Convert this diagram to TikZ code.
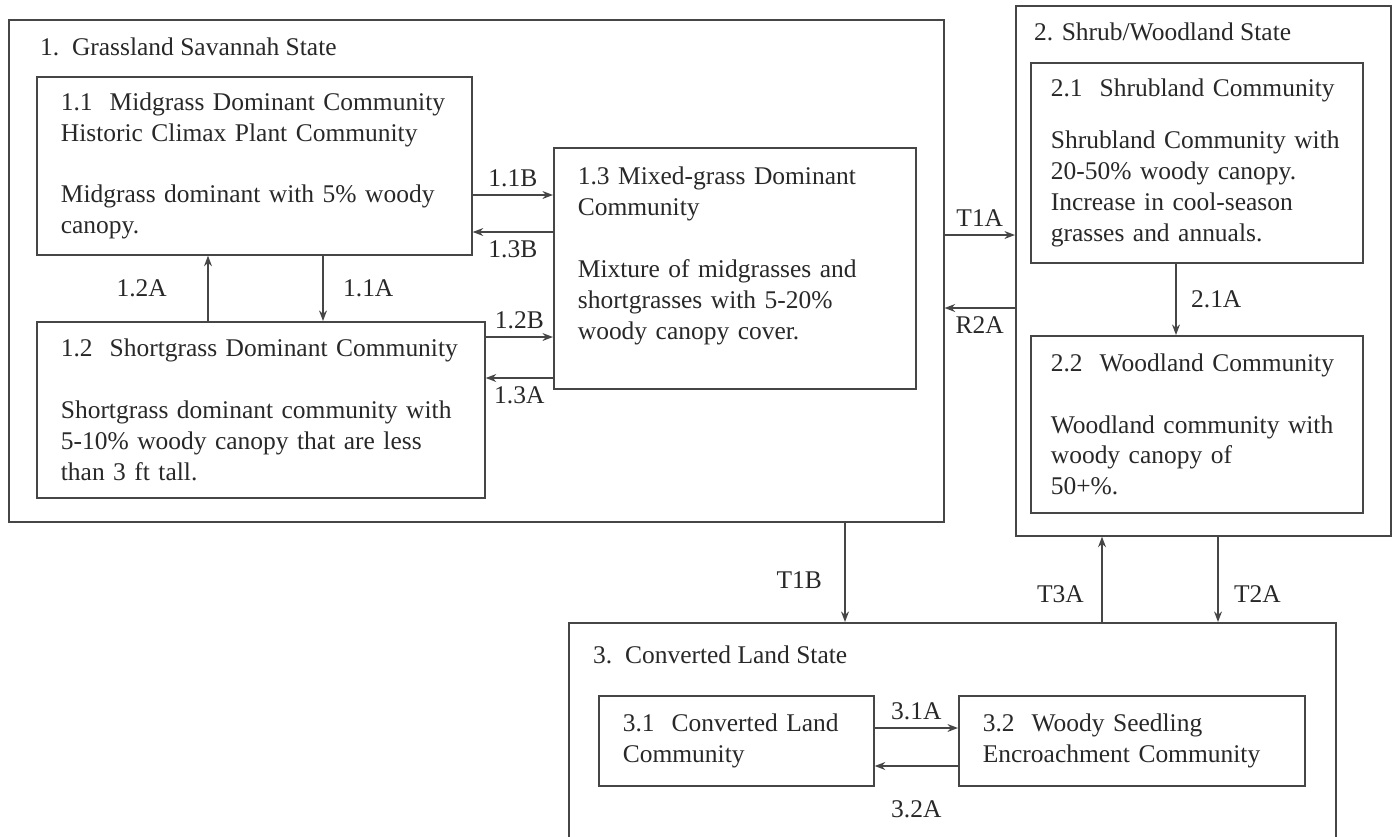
\documentclass[tikz,border=0pt]{standalone}
\usepackage{fontspec}
\setmainfont{Liberation Serif}
\usetikzlibrary{arrows.meta}
\definecolor{line-gray}{RGB}{70,70,70}
\definecolor{text-gray}{RGB}{40,40,40}

\tikzset{
  statebox/.style={draw=line-gray, line width=1pt, anchor=north west, inner sep=0pt},
  combox/.style={draw=line-gray, line width=1pt, anchor=north west, align=left, inner xsep=0.48cm, inner ysep=0pt},
  flow/.style={->, line width=0.9pt, draw=line-gray, >={Stealth[length=6pt,width=4.5pt]}}
}

\begin{document}
\begin{tikzpicture}[x=0.02cm, y=-0.02cm, text=text-gray, font=\fontsize{14.5}{17.6}\selectfont]
    \useasboundingbox (0,0) rectangle (1394,836);

    % states
    \node[statebox, minimum width=18.7cm, minimum height=10.04cm] (s1) at (8,19) {};
    \node[statebox, minimum width=7.5cm, minimum height=10.6cm] (s2) at (1015,5) {};
    \node[statebox, minimum width=15.34cm, minimum height=4.5cm] (s3) at (568,622) {};
    \node[anchor=west] (s1t) at (34,47) {1.\ \ Grassland Savannah State};
    \node[anchor=west] (s2t) at (1028,32) {2. Shrub/Woodland State};
    \node[anchor=west] (s3t) at (587,655) {3.\ \ Converted Land State};

    % communities
    \node[combox, text width=7.74cm, minimum width=8.7cm, minimum height=3.56cm] (c11) at (36,76)
      {1.1\ \ Midgrass Dominant Community\\ Historic Climax Plant Community\\[17.6pt] Midgrass dominant with 5\% woody\\ canopy.};
    \node[combox, text width=8.0cm, minimum width=8.96cm, minimum height=3.52cm] (c12) at (36,321)
      {1.2\ \ Shortgrass Dominant Community\\[17.6pt] Shortgrass dominant community with\\ 5-10\% woody canopy that are less\\ than 3 ft tall.};
    \node[combox, text width=6.28cm, minimum width=7.24cm, minimum height=4.82cm] (c13) at (553,147)
      {1.3 Mixed-grass Dominant\\ Community\\[17.6pt] Mixture of midgrasses and\\ shortgrasses with 5-20\%\\ woody canopy cover.\\ ~};
    \node[combox, inner xsep=0.4cm, text width=5.84cm, minimum width=6.64cm, minimum height=4.0cm] (c21) at (1030,62)
      {2.1\ \ Shrubland Community\\[12pt] Shrubland Community with\\ 20-50\% woody canopy.\\ Increase in cool-season\\ grasses and annuals.};
    \node[combox, inner xsep=0.4cm, text width=5.84cm, minimum width=6.64cm, minimum height=3.54cm] (c22) at (1030,335)
      {2.2\ \ Woodland Community\\[17.6pt] Woodland community with\\ woody canopy of\\ 50+\%.};
    \node[combox, text width=4.54cm, minimum width=5.5cm, minimum height=1.8cm] (c31) at (598,695)
      {3.1\ \ Converted Land\\ Community};
    \node[combox, text width=5.96cm, minimum width=6.92cm, minimum height=1.8cm] (c32) at (958,695)
      {3.2\ \ Woody Seedling\\ Encroachment Community};

    % transitions inside state 1
    \draw[flow] (c11.east |- 0,195) -- node[above=1pt] {1.1B} (c13.west |- 0,195);
    \draw[flow] (c13.west |- 0,232) -- node[below=1pt] {1.3B} (c11.east |- 0,232);
    \draw[flow] (c12.north -| 208,0) -- node[left=0.69cm] {1.2A} (c11.south -| 208,0);
    \draw[flow] (c11.south -| 323,0) -- node[right=0.27cm] {1.1A} (c12.north -| 323,0);
    \draw[flow] (c12.east |- 0,337) -- node[above=1pt] {1.2B} (c13.west |- 0,337);
    \draw[flow] (c13.west |- 0,378) -- node[below=1pt] {1.3A} (c12.east |- 0,378);

    % state 2 and between states
    \draw[flow] (c21.south -| 1176,0) -- node[right=0.17cm] {2.1A} (c22.north -| 1176,0);
    \draw[flow] (s1.east |- 0,235) -- node[above=1pt] {T1A} (s2.west |- 0,235);
    \draw[flow] (s2.west |- 0,308) -- node[below=1pt] {R2A} (s1.east |- 0,308);
    \draw[flow] (s1.south -| 845,0) -- node[left=0.33cm, pos=0.58] {T1B} (s3.north -| 845,0);
    \draw[flow] (s3.north -| 1102,0) -- node[left=0.23cm, pos=0.33] {T3A} (s2.south -| 1102,0);
    \draw[flow] (s2.south -| 1218,0) -- node[right=0.19cm, pos=0.67] {T2A} (s3.north -| 1218,0);

    % state 3
    \draw[flow] (c31.east |- 0,728) -- node[above=1pt] {3.1A} (c32.west |- 0,728);
    \draw[flow] (c32.west |- 0,766) -- node[below=0.55cm] {3.2A} (c31.east |- 0,766);
\end{tikzpicture}
\end{document}
